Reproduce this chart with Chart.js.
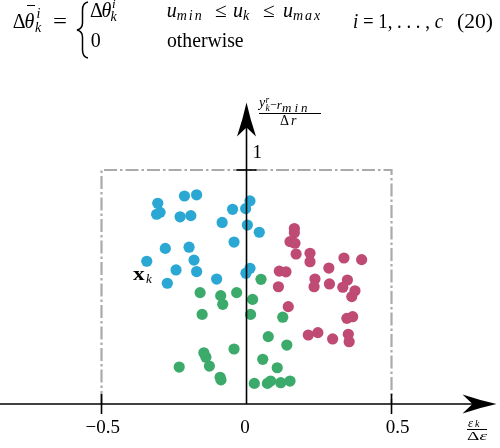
<!DOCTYPE html>
<html><head><meta charset="utf-8">
<script src="https://cdn.jsdelivr.net/npm/chart.js@4/dist/chart.umd.min.js"></script>
<style>
html,body{margin:0;padding:0;background:#fff;}
#wrap{position:relative;width:500px;height:448px;overflow:hidden;background:#fff;}
#c{position:absolute;left:0;top:0;}
#ov{position:absolute;left:0;top:0;width:500px;height:448px;pointer-events:none;color:#000;}
#ov span{position:absolute;line-height:1;white-space:pre;transform-origin:0 0;font-family:"Liberation Serif",serif;}
.rule{position:absolute;border-top:1px solid #000;height:0;}
</style></head><body>
<div id="wrap"><canvas id="c" width="500" height="448"></canvas><div id="ov"></div></div>
<script>
// ---- data ----
const blueX = [-0.306,-0.310,-0.298,-0.214,-0.172,-0.229,-0.192,-0.084,-0.048,-0.003,0.012,0.003,-0.043,0.044,-0.280,-0.198,-0.344,-0.181,-0.243,-0.172,-0.103,-0.273,-0.002,0.012];
const blueY = [0.858,0.811,0.819,0.889,0.894,0.800,0.805,0.776,0.832,0.835,0.868,0.765,0.692,0.734,0.665,0.670,0.610,0.615,0.573,0.566,0.534,0.516,0.559,0.580];
const redX = [0.165,0.165,0.150,0.167,0.171,0.219,0.219,0.336,0.397,0.284,0.113,0.136,0.236,0.233,0.286,0.348,0.332,0.374,0.363,0.110,0.144,0.213,0.246,0.297,0.351,0.354,0.346,0.366];
const redY = [0.750,0.732,0.694,0.687,0.641,0.644,0.608,0.624,0.617,0.581,0.568,0.565,0.534,0.501,0.513,0.530,0.499,0.484,0.459,0.501,0.416,0.295,0.305,0.278,0.298,0.266,0.366,0.373];
const greenX = [-0.160,-0.089,-0.082,-0.034,-0.153,-0.043,-0.147,-0.140,-0.232,-0.128,-0.091,-0.088,0.050,0.021,0.014,0.125,0.075,0.139,0.056,0.106,0.027,0.072,0.083,0.118,0.150];
const greenY = [0.476,0.463,0.426,0.476,0.383,0.235,0.219,0.200,0.158,0.162,0.114,0.103,0.533,0.447,0.383,0.371,0.288,0.252,0.191,0.155,0.088,0.088,0.098,0.091,0.098];
const boxX = [-0.5,-0.5,0.5,0.5];
const boxY = [0,1,1,0];
const xTicks = [-0.5, 0, 0.5];
const xTickLabels = ["\u22120.5", "0", "0.5"];
const yTicks = [1];
const yTickLabels = ["1"];
const xRange = [-0.85, 0.8741];
const yRange = [-0.188, 1.7265];
const xAxisEnd = 0.862;
const yAxisEnd = 1.288;

// ---- styles ----
const BLUE = "#2aa8d3", RED = "#bf4a73", GREEN = "#3caa6b";
const xLabelDx = [1.3, -1.5, 6];

const pts = (xs, ys) => xs.map((x, i) => ({x, y: ys[i]}));

const axesPlugin = {
  id: 'axes',
  afterDatasetsDraw(chart) {
    const {ctx, chartArea: a, scales: {x: sx, y: sy}} = chart;
    const x0 = sx.getPixelForValue(0), y0 = sy.getPixelForValue(0);
    const xe = sx.getPixelForValue(xAxisEnd), ye = sy.getPixelForValue(yAxisEnd);
    ctx.save();
    ctx.strokeStyle = '#000'; ctx.fillStyle = '#000'; ctx.lineWidth = 1.6;
    ctx.beginPath(); ctx.moveTo(a.left, y0); ctx.lineTo(xe - 20, y0); ctx.stroke();
    ctx.beginPath(); ctx.moveTo(x0, y0); ctx.lineTo(x0, ye + 20); ctx.stroke();
    // stealth arrow heads
    ctx.beginPath();
    ctx.moveTo(xe, y0);
    ctx.quadraticCurveTo(xe - 16, y0 - 3.5, xe - 34, y0 - 9.5);
    ctx.lineTo(xe - 24, y0);
    ctx.lineTo(xe - 34, y0 + 9.5);
    ctx.quadraticCurveTo(xe - 16, y0 + 3.5, xe, y0);
    ctx.fill();
    ctx.beginPath();
    ctx.moveTo(x0, ye);
    ctx.quadraticCurveTo(x0 - 3.5, ye + 16, x0 - 9.5, ye + 34);
    ctx.lineTo(x0, ye + 25);
    ctx.lineTo(x0 + 9.5, ye + 34);
    ctx.quadraticCurveTo(x0 + 3.5, ye + 16, x0, ye);
    ctx.fill();
    // ticks
    xTicks.forEach(v => {
      if (v === 0) return;
      const p = sx.getPixelForValue(v);
      ctx.beginPath(); ctx.moveTo(p, y0 - 10); ctx.lineTo(p, y0 + 10); ctx.stroke();
    });
    yTicks.forEach(v => {
      const p = sy.getPixelForValue(v);
      ctx.beginPath(); ctx.moveTo(x0 - 10, p); ctx.lineTo(x0 + 10, p); ctx.stroke();
    });
    // tick labels
    ctx.font = '19px "Liberation Serif"';
    ctx.textBaseline = 'alphabetic';
    ctx.textAlign = 'center';
    xTicks.forEach((v, i) => ctx.fillText(xTickLabels[i], sx.getPixelForValue(v) + xLabelDx[i], y0 + 28.5));
    ctx.textAlign = 'left';
    yTicks.forEach((v, i) => ctx.fillText(yTickLabels[i], x0 + 6, sy.getPixelForValue(v) - 12.5));
    ctx.restore();
  }
};

new Chart(document.getElementById('c'), {
  type: 'scatter',
  data: {
    datasets: [
      {label: 'cluster 1', data: pts(blueX, blueY), backgroundColor: BLUE, borderColor: BLUE, pointRadius: 5.6, pointBorderWidth: 0, order: 1},
      {label: 'cluster 2', data: pts(redX, redY), backgroundColor: RED, borderColor: RED, pointRadius: 5.6, pointBorderWidth: 0, order: 1},
      {label: 'cluster 3', data: pts(greenX, greenY), backgroundColor: GREEN, borderColor: GREEN, pointRadius: 5.6, pointBorderWidth: 0, order: 1},
      {label: 'bounds', type: 'line', data: pts(boxX, boxY), borderColor: '#aaaaaa', borderWidth: 2.2, borderDash: [13, 3, 2.5, 3], pointRadius: 0, fill: false, showLine: true, tension: 0, order: 5}
    ]
  },
  options: {
    responsive: false, animation: false,
    layout: {padding: 0, autoPadding: false},
    plugins: {legend: {display: false}, tooltip: {enabled: false}},
    scales: {
      x: {type: 'linear', min: xRange[0], max: xRange[1], display: false},
      y: {type: 'linear', min: yRange[0], max: yRange[1], display: false}
    }
  },
  plugins: [axesPlugin]
});

// ---- text overlay (equation and axis titles) ----
const ov = document.getElementById('ov');
function put(html, x, base, size, o = {}) {
  const el = document.createElement('span');
  el.innerHTML = html;
  el.style.left = x + 'px';
  el.style.top = (base - 0.8375 * size) + 'px';
  el.style.fontSize = size + 'px';
  if (o.it) el.style.fontStyle = 'italic';
  if (o.b) el.style.fontWeight = 'bold';
  if (o.ls) el.style.letterSpacing = o.ls + 'px';
  ov.appendChild(el);
  if (o.w) {
    const nat = el.getBoundingClientRect().width;
    if (nat > 0) el.style.transform = 'scaleX(' + (o.w / nat) + ')';
  }
  return el;
}
function rule(x, y, w, t) {
  const d = document.createElement('div');
  d.className = 'rule';
  d.style.left = x + 'px'; d.style.top = y + 'px'; d.style.width = w + 'px';
  d.style.borderTopWidth = (t || 1) + 'px';
  ov.appendChild(d);
}
// equation (20)
const Bc = 28, B1 = 17, B2 = 47;
put('Δ', 12.7, Bc, 20);
put('θ', 24.5, Bc, 20, {it: true});
rule(26.5, 5, 8, 1.2);
put('i', 36.5, Bc - 9, 14, {it: true});
put('k', 35, Bc + 5, 14, {it: true});
put('=', 53, Bc, 20, {w: 14});
const svgNS = 'http://www.w3.org/2000/svg';
const svg = document.createElementNS(svgNS, 'svg');
svg.setAttribute('width', '14'); svg.setAttribute('height', '58');
svg.style.cssText = 'position:absolute;left:76px;top:1px;';
const path = document.createElementNS(svgNS, 'path');
path.setAttribute('d', 'M12 1 C7.5 1.8 6.5 4.5 6.5 9 L6.5 22 C6.5 26 5 28 1 29 C5 30 6.5 32 6.5 36 L6.5 49 C6.5 53.5 7.5 56.2 12 57');
path.setAttribute('fill', 'none'); path.setAttribute('stroke', '#000'); path.setAttribute('stroke-width', '1.5');
svg.appendChild(path); ov.appendChild(svg);
put('Δ', 90, B1, 20);
put('θ', 101.5, B1, 20, {it: true});
put('i', 112, B1 - 9.5, 13, {it: true});
put('k', 110.5, B1 + 5, 14, {it: true});
put('u', 166.7, B1, 20, {it: true});
put('min', 176.7, B1 + 3.5, 14, {it: true, ls: 2});
put('≤', 215, B1, 20, {w: 11.7});
put('u', 233, B1, 20, {it: true});
put('k', 243, B1 + 3.5, 14, {it: true});
put('≤', 263, B1, 20, {w: 11.7});
put('u', 283, B1, 20, {it: true});
put('max', 293, B1 + 3.5, 14, {it: true, ls: 2});
put('<i>i</i> = 1, . . . , <i>c</i>', 353, Bc, 20, {w: 90});
put('(20)', 457, Bc, 20, {w: 36});
put('0', 90.7, B2, 20);
put('otherwise', 166.7, B2, 20, {w: 76.6});

// y-axis title
put('y', 259, 108, 14, {it: true});
put('r', 265.5, 103.5, 9.5, {it: true});
put('k', 265.5, 111.5, 9.5, {it: true});
put('−', 269.5, 109.3, 13, {w: 6.7});
put('r', 276.7, 109, 13, {it: true});
put('min', 282, 111.5, 13, {it: true, ls: 3});
rule(259, 113, 62, 0.9);
put('Δ', 280, 126, 14);
put('r', 291, 126, 14, {it: true});

// x-axis title
put('ε', 468, 426.5, 13, {it: true});
put('k', 475, 427.5, 10, {it: true});
rule(466.7, 429, 20, 0.9);
put('Δ<i>ε</i>', 467, 440, 13, {w: 20});

// point label
put('x', 133, 280, 19, {b: true, w: 11.7});
put('k', 146, 283, 13, {it: true});
</script>
</body></html>
